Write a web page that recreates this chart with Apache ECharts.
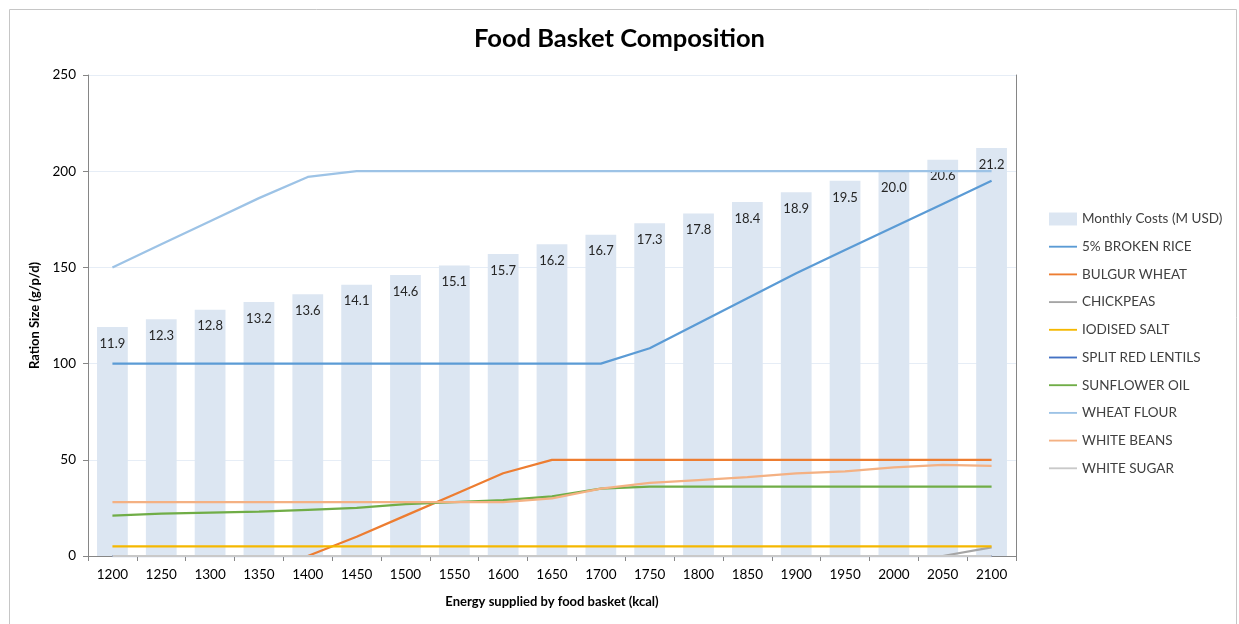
<!DOCTYPE html>
<html><head><meta charset="utf-8">
<script src="https://cdn.jsdelivr.net/npm/echarts@6/dist/echarts.min.js"></script>
<style>html,body{margin:0;padding:0;background:#fff}#c{width:1239px;height:624px}</style>
</head><body><div id="c"></div>
<script>
const categories = ['1200','1250','1300','1350','1400','1450','1500','1550','1600','1650','1700','1750','1800','1850','1900','1950','2000','2050','2100'];
const monthlyCosts = [11.9,12.3,12.8,13.2,13.6,14.1,14.6,15.1,15.7,16.2,16.7,17.3,17.8,18.4,18.9,19.5,20.0,20.6,21.2];
const brokenRice = [100,100,100,100,100,100,100,100,100,100,100,108,121,134,147,159,171,183,195];
const bulgurWheat = [null,null,null,null,0,10,21,32,43,50,50,50,50,50,50,50,50,50,50];
const chickpeas = [null,null,null,null,null,null,null,null,null,null,null,null,null,null,null,null,null,0,4.5];
const iodisedSalt = [5,5,5,5,5,5,5,5,5,5,5,5,5,5,5,5,5,5,5];
const splitRedLentils = [0,0,0,0,0,0,0,0,0,0,0,0,0,0,0,0,0,0,0];
const sunflowerOil = [21,22,22.5,23,24,25,27,28,29,31,35,36,36,36,36,36,36,36,36];
const wheatFlour = [150,162,174,186,197,200,200,200,200,200,200,200,200,200,200,200,200,200,200];
const whiteBeans = [28,28,28,28,28,28,28,28,28,30,35,38,39.5,41,43,44,46,47.3,46.8];
const whiteSugar = [0,0,0,0,0,0,0,0,0,0,0,0,0,0,0,0,0,0,0];

const FONT = 'Lato, "Open Sans", sans-serif';
const lines = [
  ['5% BROKEN RICE', brokenRice, '#5B9BD5'],
  ['BULGUR WHEAT', bulgurWheat, '#ED7D31'],
  ['CHICKPEAS', chickpeas, '#A5A5A5'],
  ['IODISED SALT', iodisedSalt, '#F5B800'],
  ['SPLIT RED LENTILS', splitRedLentils, '#4472C4'],
  ['SUNFLOWER OIL', sunflowerOil, '#70AD47'],
  ['WHEAT FLOUR', wheatFlour, '#9DC3E6'],
  ['WHITE BEANS', whiteBeans, '#F4B183'],
  ['WHITE SUGAR', whiteSugar, '#C9C9C9']
];

const chart = echarts.init(document.getElementById('c'), null, {renderer:'canvas'});
const series = [{
  name: 'Monthly Costs (M USD)', type: 'bar', yAxisIndex: 1, data: monthlyCosts,
  barCategoryGap: '37%', itemStyle: {color: '#DCE6F2'}, z: 1,
  label: {show: true, position: 'insideTop', distance: 10, color: '#262626', fontFamily: FONT, fontSize: 13,
    formatter: p => p.value.toFixed(1)}
}];
lines.forEach(([n, d, c]) => series.push({
  name: n, type: 'line', data: d, showSymbol: false, symbol: 'none', z: 3,
  lineStyle: {color: c, width: 2.25}, itemStyle: {color: c}
}));

chart.setOption({
  animation: false,
  backgroundColor: '#fff',
  graphic: [{type: 'rect', shape: {x: 9.5, y: 9.5, width: 1227, height: 640}, style: {fill: 'none', stroke: '#c6c6c6', lineWidth: 1}, z: -10}],
  title: {text: 'Food Basket Composition', left: 'center', top: 21, textStyle: {fontFamily: FONT, fontSize: 25.5, fontWeight: 'bold', color: '#000'}},
  grid: {left: 88, right: 223, top: 75, bottom: 68},
  legend: {
    orient: 'vertical', left: 1044, top: 207, itemGap: 13.7, itemWidth: 28, itemHeight: 13,
    textStyle: {fontFamily: FONT, fontSize: 13.5, color: '#404040'},
    data: [{name: 'Monthly Costs (M USD)', icon: 'rect', itemStyle: {color: '#DCE6F2'}}].concat(lines.map(l => ({name: l[0], icon: 'path://M0,6L30,6L30,8L0,8Z'})))
  },
  xAxis: {
    type: 'category', data: categories, boundaryGap: true,
    name: 'Energy supplied by food basket (kcal)', nameLocation: 'middle', nameGap: 39,
    nameTextStyle: {fontFamily: FONT, fontSize: 13, fontWeight: 'bold', color: '#000'},
    axisLine: {lineStyle: {color: '#868686'}},
    axisTick: {show: true, length: 5, lineStyle: {color: '#868686'}},
    axisLabel: {fontFamily: FONT, fontSize: 13.5, color: '#000', margin: 12}
  },
  yAxis: [{
    type: 'value', min: 0, max: 250, interval: 50,
    name: 'Ration Size (g/p/d)', nameLocation: 'middle', nameGap: 43, nameRotate: 90,
    nameTextStyle: {fontFamily: FONT, fontSize: 13, fontWeight: 'bold', color: '#000'},
    axisLine: {show: true, lineStyle: {color: '#868686'}},
    axisTick: {show: true, length: 5, lineStyle: {color: '#868686'}},
    axisLabel: {fontFamily: FONT, fontSize: 13.5, color: '#000', margin: 12},
    splitLine: {lineStyle: {color: '#E6EDF6'}}
  }, {
    type: 'value', min: 0, max: 25, interval: 5, position: 'right',
    axisLine: {show: true, lineStyle: {color: '#868686'}},
    axisTick: {show: false}, axisLabel: {show: false}, splitLine: {show: false}
  }],
  series: series
});
</script></body></html>
